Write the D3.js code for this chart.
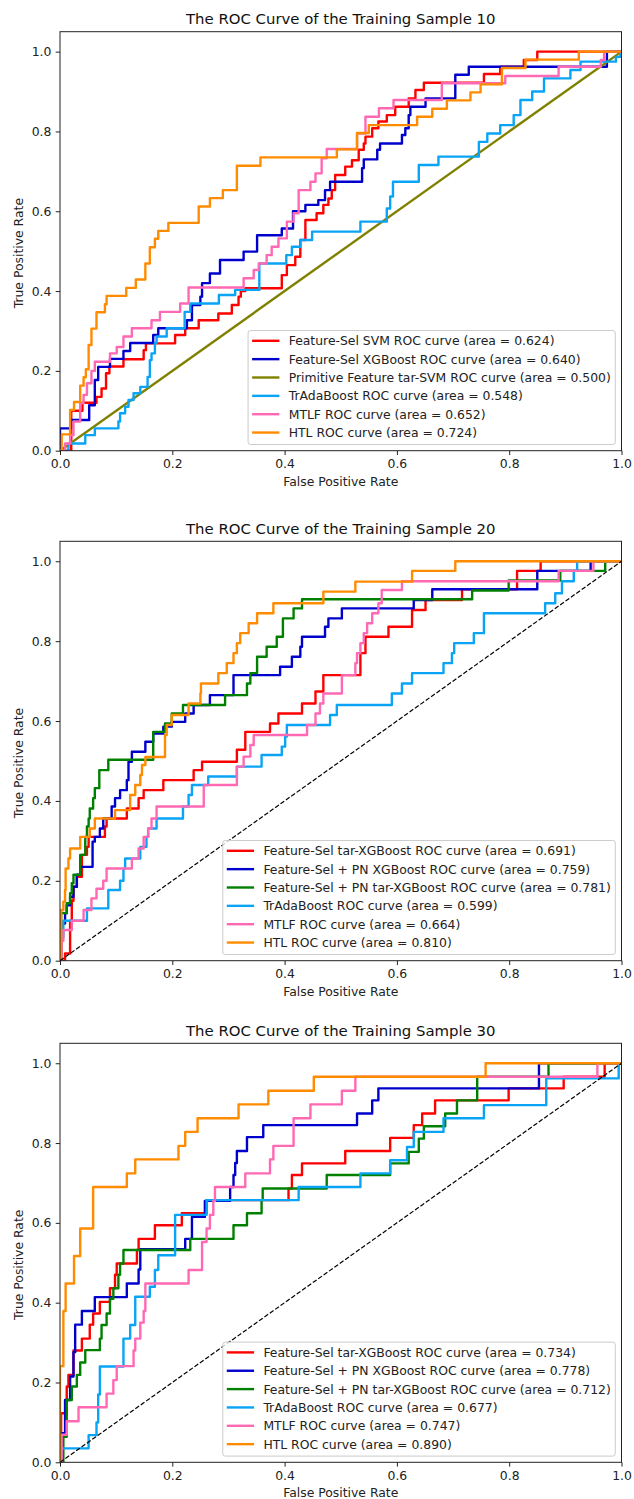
<!DOCTYPE html>
<html><head><meta charset="utf-8">
<script src="https://cdn.jsdelivr.net/npm/d3@7"></script>
<style>body{margin:0;background:#fff}svg{display:block}text{font-family:"DejaVu Sans",sans-serif}</style>
</head><body><svg id="c" width="634" height="1499"></svg>
<script>
// ---------------- DATA ----------------
const TICKS = [0, 0.2, 0.4, 0.6, 0.8, 1.0];
const TITLES = ["The ROC Curve of the Training Sample 10", "The ROC Curve of the Training Sample 20", "The ROC Curve of the Training Sample 30"];
const X_LABEL = "False Positive Rate";
const Y_LABEL = "True Positive Rate";

// Panel 1 (Sample 10): [fpr, tpr] step points
const p1_svm = [[0,0],[0.02,0.10],[0.04,0.12],[0.065,0.135],[0.074,0.156],[0.082,0.194],[0.088,0.211],[0.113,0.229],[0.149,0.252],[0.153,0.269],[0.205,0.29],[0.223,0.307],[0.247,0.327],[0.282,0.344],[0.306,0.365],[0.318,0.386],[0.322,0.40],[0.330,0.407],[0.395,0.44],[0.404,0.465],[0.419,0.486],[0.428,0.528],[0.437,0.578],[0.457,0.595],[0.469,0.616],[0.478,0.632],[0.484,0.653],[0.490,0.691],[0.508,0.712],[0.520,0.728],[0.532,0.754],[0.541,0.770],[0.544,0.787],[0.556,0.808],[0.567,0.825],[0.582,0.841],[0.597,0.862],[0.621,0.883],[0.633,0.904],[0.648,0.922],[0.755,0.944],[0.784,0.962],[0.826,0.979],[0.850,1.0],[1,1]];
const p1_xgb = [[0,0],[0,0.056],[0.02,0.077],[0.052,0.114],[0.062,0.177],[0.068,0.21],[0.089,0.23],[0.113,0.25],[0.125,0.27],[0.166,0.29],[0.175,0.307],[0.226,0.327],[0.235,0.365],[0.25,0.386],[0.253,0.42],[0.267,0.444],[0.285,0.478],[0.327,0.499],[0.351,0.54],[0.395,0.557],[0.415,0.6],[0.437,0.616],[0.46,0.628],[0.472,0.653],[0.481,0.674],[0.538,0.708],[0.541,0.73],[0.565,0.754],[0.570,0.770],[0.609,0.791],[0.615,0.808],[0.621,0.841],[0.624,0.862],[0.651,0.883],[0.704,0.942],[0.728,0.962],[0.974,1.0],[1,1]];
const p1_prim = [[0,0],[1,1]];
const p1_trada = [[0,0],[0.015,0.018],[0.045,0.039],[0.062,0.056],[0.104,0.073],[0.107,0.094],[0.116,0.11],[0.122,0.127],[0.131,0.144],[0.143,0.16],[0.156,0.185],[0.160,0.227],[0.163,0.244],[0.169,0.27],[0.172,0.286],[0.190,0.307],[0.222,0.348],[0.232,0.369],[0.283,0.39],[0.312,0.403],[0.355,0.469],[0.403,0.49],[0.413,0.511],[0.428,0.528],[0.449,0.549],[0.535,0.574],[0.582,0.607],[0.588,0.637],[0.593,0.674],[0.639,0.716],[0.674,0.737],[0.746,0.774],[0.761,0.795],[0.784,0.816],[0.808,0.841],[0.820,0.879],[0.841,0.9],[0.862,0.933],[0.909,0.954],[0.927,0.975],[0.990,0.987],[0.998,1.0],[1,1]];
const p1_mtlf = [[0,0],[0.009,0.018],[0.018,0.039],[0.024,0.073],[0.036,0.119],[0.042,0.14],[0.048,0.169],[0.056,0.2],[0.062,0.223],[0.089,0.244],[0.101,0.26],[0.113,0.286],[0.128,0.307],[0.163,0.327],[0.178,0.348],[0.214,0.369],[0.229,0.409],[0.327,0.432],[0.345,0.453],[0.354,0.469],[0.368,0.49],[0.377,0.511],[0.389,0.532],[0.404,0.574],[0.416,0.595],[0.425,0.653],[0.446,0.674],[0.455,0.695],[0.466,0.733],[0.475,0.756],[0.529,0.795],[0.544,0.837],[0.568,0.858],[0.594,0.879],[0.680,0.921],[0.793,0.939],[0.888,0.962],[0.963,0.979],[0.969,1.0],[1,1]];
const p1_htl = [[0,0],[0.003,0.041],[0.018,0.102],[0.025,0.122],[0.036,0.163],[0.042,0.184],[0.046,0.204],[0.051,0.265],[0.056,0.306],[0.065,0.347],[0.080,0.367],[0.083,0.388],[0.118,0.408],[0.135,0.429],[0.152,0.469],[0.160,0.51],[0.169,0.531],[0.175,0.551],[0.193,0.571],[0.247,0.612],[0.267,0.633],[0.290,0.653],[0.315,0.714],[0.357,0.735],[0.493,0.755],[0.529,0.796],[0.550,0.816],[0.636,0.837],[0.663,0.857],[0.689,0.878],[0.731,0.898],[0.749,0.918],[0.787,0.959],[0.829,0.980],[0.924,1.0],[1,1]];
const P1_NAMES = ["Feature-Sel SVM", "Feature-Sel XGBoost", "Primitive Feature tar-SVM", "TrAdaBoost", "MTLF", "HTL"];
const P1_AUC = ["0.624", "0.640", "0.500", "0.548", "0.652", "0.724"];

// Panel 2 (Sample 20)
const p2_tarxgb = [[0,0],[0.009,0.018],[0.018,0.10],[0.021,0.15],[0.024,0.185],[0.030,0.21],[0.039,0.265],[0.048,0.285],[0.051,0.31],[0.080,0.336],[0.083,0.356],[0.119,0.381],[0.140,0.407],[0.149,0.427],[0.184,0.452],[0.238,0.477],[0.253,0.498],[0.315,0.528],[0.330,0.573],[0.374,0.594],[0.389,0.619],[0.431,0.644],[0.455,0.674],[0.469,0.715],[0.535,0.77],[0.544,0.811],[0.585,0.836],[0.627,0.878],[0.651,0.903],[0.716,0.93],[0.814,0.976],[0.856,1.0],[1,1]];
const p2_pnxgb = [[0,0],[0.003,0.093],[0.009,0.119],[0.012,0.139],[0.018,0.16],[0.024,0.185],[0.030,0.215],[0.036,0.235],[0.058,0.298],[0.062,0.31],[0.071,0.331],[0.077,0.356],[0.092,0.386],[0.098,0.407],[0.107,0.427],[0.119,0.452],[0.122,0.498],[0.128,0.523],[0.152,0.548],[0.166,0.569],[0.184,0.586],[0.199,0.598],[0.223,0.619],[0.238,0.64],[0.267,0.665],[0.309,0.715],[0.392,0.736],[0.413,0.761],[0.428,0.786],[0.431,0.811],[0.472,0.836],[0.478,0.857],[0.502,0.882],[0.630,0.903],[0.663,0.93],[0.850,0.976],[0.945,1.0],[1,1]];
const p2_pntarxgb = [[0,0],[0.002,0.119],[0.012,0.144],[0.018,0.169],[0.021,0.194],[0.024,0.215],[0.036,0.265],[0.045,0.31],[0.048,0.336],[0.051,0.356],[0.053,0.381],[0.059,0.407],[0.062,0.432],[0.070,0.477],[0.086,0.503],[0.166,0.573],[0.187,0.594],[0.199,0.619],[0.219,0.64],[0.294,0.665],[0.333,0.694],[0.339,0.72],[0.351,0.761],[0.368,0.786],[0.386,0.811],[0.397,0.857],[0.416,0.882],[0.431,0.905],[0.734,0.927],[0.799,0.952],[0.891,0.976],[0.971,1.0],[1,1]];
const p2_trada = [[0,0],[0.002,0.06],[0.006,0.1],[0.048,0.131],[0.086,0.177],[0.107,0.2],[0.113,0.23],[0.116,0.256],[0.143,0.285],[0.154,0.31],[0.157,0.331],[0.172,0.356],[0.219,0.386],[0.229,0.415],[0.235,0.44],[0.264,0.461],[0.315,0.486],[0.359,0.515],[0.395,0.536],[0.401,0.561],[0.404,0.59],[0.481,0.615],[0.493,0.64],[0.591,0.669],[0.609,0.694],[0.627,0.72],[0.683,0.745],[0.698,0.77],[0.702,0.795],[0.737,0.82],[0.755,0.87],[0.864,0.895],[0.882,0.92],[0.894,0.95],[0.915,0.976],[0.921,1.0],[1,1]];
const p2_mtlf = [[0,0],[0.003,0.05],[0.006,0.077],[0.021,0.1],[0.042,0.127],[0.056,0.156],[0.065,0.18],[0.077,0.2],[0.083,0.231],[0.128,0.256],[0.140,0.281],[0.149,0.31],[0.157,0.331],[0.163,0.356],[0.172,0.386],[0.256,0.44],[0.315,0.486],[0.327,0.511],[0.339,0.54],[0.345,0.565],[0.440,0.59],[0.455,0.619],[0.463,0.644],[0.469,0.669],[0.502,0.715],[0.526,0.745],[0.529,0.77],[0.535,0.795],[0.541,0.82],[0.547,0.845],[0.556,0.87],[0.567,0.895],[0.573,0.928],[0.609,0.95],[0.888,0.976],[0.950,1.0],[1,1]];
const p2_htl = [[0,0],[0.002,0.127],[0.006,0.148],[0.009,0.177],[0.010,0.231],[0.015,0.256],[0.018,0.281],[0.036,0.31],[0.053,0.331],[0.062,0.356],[0.098,0.377],[0.125,0.415],[0.134,0.44],[0.143,0.465],[0.146,0.49],[0.152,0.51],[0.187,0.565],[0.190,0.59],[0.199,0.615],[0.229,0.644],[0.250,0.669],[0.251,0.694],[0.282,0.72],[0.297,0.745],[0.309,0.77],[0.315,0.795],[0.321,0.82],[0.336,0.845],[0.351,0.87],[0.380,0.895],[0.469,0.924],[0.526,0.949],[0.627,0.976],[0.704,1.0],[1,1]];
const P23_NAMES = ["Feature-Sel tar-XGBoost", "Feature-Sel + PN XGBoost", "Feature-Sel + PN tar-XGBoost", "TrAdaBoost", "MTLF", "HTL"];
const P2_AUC = ["0.691", "0.759", "0.781", "0.599", "0.664", "0.810"];

// Panel 3 (Sample 30)
const p3_tarxgb = [[0,0],[0.002,0.123],[0.012,0.19],[0.015,0.219],[0.024,0.28],[0.039,0.31],[0.053,0.345],[0.059,0.373],[0.071,0.402],[0.089,0.436],[0.098,0.47],[0.101,0.498],[0.137,0.532],[0.140,0.56],[0.169,0.594],[0.217,0.624],[0.261,0.657],[0.407,0.686],[0.413,0.72],[0.431,0.749],[0.508,0.78],[0.588,0.813],[0.630,0.845],[0.645,0.874],[0.668,0.907],[0.799,0.937],[0.897,0.966],[0.970,1.0],[1,1]];
const p3_pnxgb = [[0,0],[0.003,0.073],[0.009,0.156],[0.018,0.215],[0.024,0.276],[0.027,0.345],[0.039,0.379],[0.062,0.414],[0.119,0.448],[0.140,0.483],[0.143,0.534],[0.223,0.56],[0.235,0.615],[0.258,0.655],[0.303,0.69],[0.309,0.72],[0.312,0.75],[0.315,0.78],[0.333,0.815],[0.362,0.845],[0.529,0.874],[0.556,0.907],[0.567,0.937],[0.853,1.0],[1,1]];
const p3_pntarxgb = [[0,0],[0.006,0.064],[0.012,0.156],[0.021,0.19],[0.030,0.219],[0.036,0.25],[0.045,0.281],[0.071,0.31],[0.074,0.344],[0.083,0.373],[0.089,0.41],[0.095,0.436],[0.104,0.47],[0.107,0.498],[0.113,0.532],[0.232,0.56],[0.309,0.594],[0.333,0.624],[0.359,0.657],[0.361,0.686],[0.475,0.72],[0.588,0.749],[0.621,0.778],[0.639,0.811],[0.648,0.842],[0.686,0.874],[0.707,0.907],[0.743,0.966],[0.870,1.0],[1,1]];
const p3_trada = [[0,0],[0.003,0.035],[0.051,0.068],[0.065,0.1],[0.068,0.17],[0.071,0.24],[0.113,0.31],[0.125,0.344],[0.134,0.415],[0.160,0.44],[0.169,0.482],[0.175,0.519],[0.205,0.62],[0.261,0.657],[0.425,0.69],[0.535,0.724],[0.588,0.757],[0.618,0.79],[0.630,0.828],[0.683,0.862],[0.755,0.895],[0.866,0.962],[0.995,1.0],[1,1]];
const p3_mtlf = [[0,0],[0.003,0.069],[0.012,0.103],[0.033,0.138],[0.083,0.172],[0.095,0.206],[0.101,0.241],[0.131,0.28],[0.134,0.31],[0.143,0.35],[0.149,0.379],[0.152,0.448],[0.229,0.482],[0.253,0.552],[0.261,0.586],[0.267,0.62],[0.273,0.655],[0.276,0.69],[0.330,0.724],[0.374,0.759],[0.380,0.793],[0.416,0.862],[0.446,0.897],[0.502,0.931],[0.526,0.966],[0.957,1.0],[1,1]];
const p3_htl = [[0,0],[0,0.241],[0.006,0.379],[0.010,0.448],[0.025,0.517],[0.036,0.586],[0.059,0.69],[0.119,0.724],[0.134,0.759],[0.211,0.793],[0.223,0.828],[0.245,0.862],[0.318,0.897],[0.371,0.931],[0.452,0.966],[0.758,1.0],[1,1]];
const P3_AUC = ["0.734", "0.778", "0.712", "0.677", "0.747", "0.890"];
const CHANCE = [[0,0],[1,1]];

// ---------------- STYLE / LAYOUT ----------------
const C = {red:"#ff0000", blue:"#0000cd", olive:"#808000", green:"#008000", sky:"#0aa4f6", pink:"#ff69b4", orange:"#ff8c00"};
const X0 = 60, X1 = 621.5;
const panels = [
  {title: TITLES[0], y0: 450.7, yTop: 31.7, series: [p1_svm, p1_xgb, p1_prim, p1_trada, p1_mtlf, p1_htl], names: P1_NAMES, auc: P1_AUC,
   colors: [C.red, C.blue, C.olive, C.sky, C.pink, C.orange], stepped: [true, true, false, true, true, true], chance: false},
  {title: TITLES[1], y0: 960.7, yTop: 541.3, series: [p2_tarxgb, p2_pnxgb, p2_pntarxgb, p2_trada, p2_mtlf, p2_htl], names: P23_NAMES, auc: P2_AUC,
   colors: [C.red, C.blue, C.green, C.sky, C.pink, C.orange], stepped: [true, true, true, true, true, true], chance: true},
  {title: TITLES[2], y0: 1462.3, yTop: 1043.3, series: [p3_tarxgb, p3_pnxgb, p3_pntarxgb, p3_trada, p3_mtlf, p3_htl], names: P23_NAMES, auc: P3_AUC,
   colors: [C.red, C.blue, C.green, C.sky, C.pink, C.orange], stepped: [true, true, true, true, true, true], chance: true}
];
const FS = 12.4, TFS = 14.9, LW = 2.4;
const svg = d3.select("#c");
const fmt = d3.format(".1f");

panels.forEach((p, pi) => {
  const x = d3.scaleLinear().domain([0, 1]).range([X0, X1]);
  const y = d3.scaleLinear().domain([0, 1.05]).range([p.y0, p.yTop]);
  const g = svg.append("g");
  const cid = "clip" + pi;
  svg.append("defs").append("clipPath").attr("id", cid).append("rect")
    .attr("x", X0).attr("y", p.yTop).attr("width", X1 - X0).attr("height", p.y0 - p.yTop);

  const plot = g.append("g").attr("clip-path", `url(#${cid})`);
  const stepLine = d3.line().x(d => x(d[0])).y(d => y(d[1])).curve(d3.curveStepAfter);
  const linLine = d3.line().x(d => x(d[0])).y(d => y(d[1]));
  p.series.forEach((s, i) => {
    plot.append("path").datum(s).attr("d", p.stepped[i] ? stepLine : linLine)
      .attr("fill", "none").attr("stroke", p.colors[i]).attr("stroke-width", LW)
      .attr("stroke-linejoin", "round").attr("stroke-linecap", "butt");
  });
  if (p.chance) {
    plot.append("path").datum(CHANCE).attr("d", linLine).attr("fill", "none")
      .attr("stroke", "#000").attr("stroke-width", 1.2).attr("stroke-dasharray", "4.6,2");
  }

  // axes
  const ax = g.append("g").attr("transform", `translate(0,${p.y0})`)
    .call(d3.axisBottom(x).tickValues(TICKS).tickFormat(fmt).tickSize(4.3).tickPadding(4.3));
  const ay = g.append("g").attr("transform", `translate(${X0},0)`)
    .call(d3.axisLeft(y).tickValues(TICKS).tickFormat(fmt).tickSize(4.3).tickPadding(4.3));
  [ax, ay].forEach(a => {
    a.select(".domain").remove();
    a.selectAll("line").attr("stroke", "#222").attr("stroke-width", 1);
    a.selectAll("text").attr("font-size", FS).attr("fill", "#222").attr("font-family", '"DejaVu Sans",sans-serif');
  });
  g.append("rect").attr("x", X0).attr("y", p.yTop).attr("width", X1 - X0).attr("height", p.y0 - p.yTop)
    .attr("fill", "none").attr("stroke", "#222").attr("stroke-width", 1);

  // labels
  g.append("text").attr("x", (X0 + X1) / 2).attr("y", p.yTop - 7.4).attr("text-anchor", "middle")
    .attr("font-size", TFS).attr("fill", "#111").text(p.title);
  g.append("text").attr("x", (X0 + X1) / 2).attr("y", p.y0 + 35).attr("text-anchor", "middle")
    .attr("font-size", FS).attr("fill", "#222").text(X_LABEL);
  g.append("text").attr("transform", `translate(22.8,${(p.y0 + y(1.0)) / 2 + 2}) rotate(-90)`).attr("text-anchor", "middle")
    .attr("font-size", FS).attr("fill", "#222").text(Y_LABEL);

  // legend
  const lg = g.append("g");
  const box = lg.append("rect");
  const labels = p.names.map((n, i) => `${n} ROC curve (area = ${p.auc[i]})`);
  const texts = labels.map(t => lg.append("text").attr("font-size", FS).attr("fill", "#222").text(t));
  const tw = d3.max(texts, t => t.node().getComputedTextLength());
  const right = X1 - 6.2, bottom = p.y0 - 6.2, height = 114;
  const left = right - 4.5 - tw - 40.6, top = bottom - height;
  box.attr("x", left).attr("y", top).attr("width", right - left).attr("height", height)
    .attr("rx", 2.5).attr("fill", "rgba(255,255,255,0.8)").attr("stroke", "#cccccc").attr("stroke-width", 1);
  texts.forEach((t, i) => {
    const cy = top + 10.3 + i * 18.35;
    t.attr("x", left + 40.6).attr("y", cy).attr("dy", "0.36em");
    lg.append("line").attr("x1", left + 4).attr("x2", left + 31.3).attr("y1", cy).attr("y2", cy)
      .attr("stroke", p.colors[i]).attr("stroke-width", LW);
  });
});
</script></body></html>
